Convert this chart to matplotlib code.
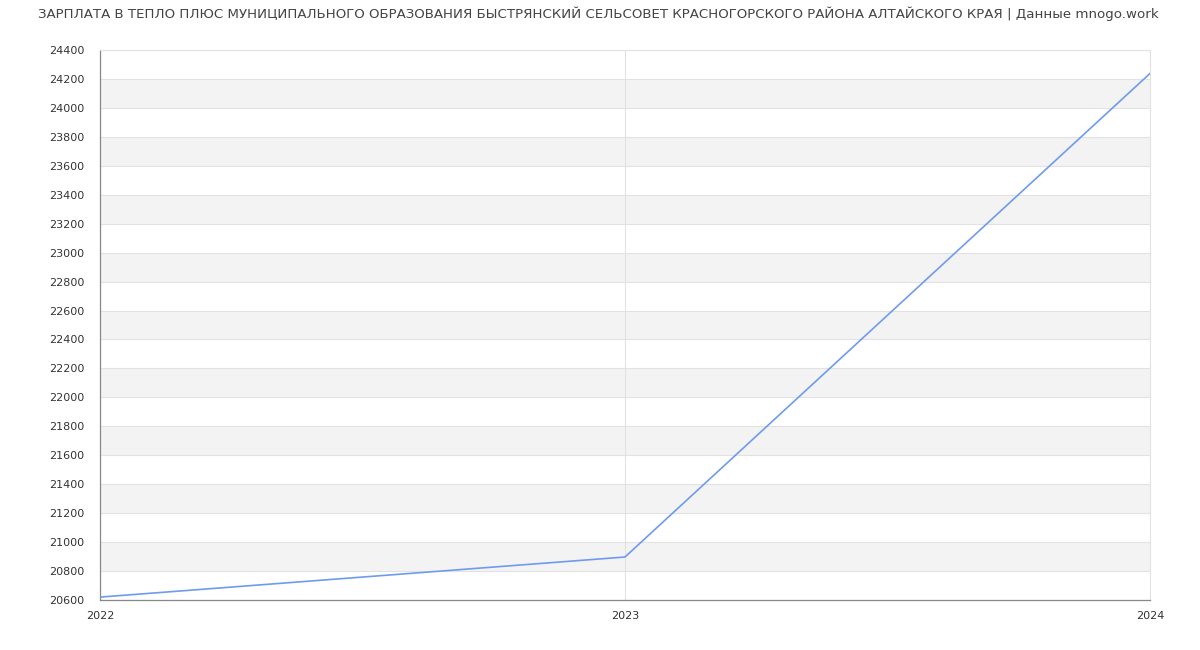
import matplotlib
matplotlib.use("Agg")
import matplotlib.pyplot as plt

# data
years = [2022, 2023, 2024]
salary = [20620, 20897, 24238]

y_min, y_max, y_step = 20600, 24400, 200
title = ("ЗАРПЛАТА В ТЕПЛО ПЛЮС МУНИЦИПАЛЬНОГО ОБРАЗОВАНИЯ БЫСТРЯНСКИЙ СЕЛЬСОВЕТ "
         "КРАСНОГОРСКОГО РАЙОНА АЛТАЙСКОГО КРАЯ | Данные mnogo.work")

fig = plt.figure(figsize=(12, 6.5), dpi=100)
ax = fig.add_axes([100 / 1200, 50 / 650, 1050 / 1200, 550 / 650])

# alternating bands
for lo in range(y_min, y_max, y_step):
    if ((lo - y_min) // y_step) % 2 == 1:
        ax.axhspan(lo, lo + y_step, color="#f3f3f3", zorder=0, lw=0)

ax.set_yticks(range(y_min, y_max + 1, y_step))
ax.set_xticks(years)
ax.grid(True, color="#e2e2e2", lw=0.8, zorder=1)

ax.plot(years, salary, color="#6f9bef", lw=1.2, zorder=3)

ax.set_xlim(years[0], years[-1])
ax.set_ylim(y_min, y_max)

for side in ["top", "right"]:
    ax.spines[side].set_color("#e2e2e2")
    ax.spines[side].set_linewidth(0.8)
for side in ["left", "bottom"]:
    ax.spines[side].set_color("#888888")
    ax.spines[side].set_linewidth(0.9)

ax.tick_params(axis="both", labelsize=8, colors="#333333", length=0)
ax.tick_params(axis="y", pad=11)
ax.tick_params(axis="x", pad=8)

fig.text(0.5 - 2 / 1200, 1 - 14 / 650, title, ha="center", va="center",
         fontsize=9.65, color="#444444")

fig.savefig("out.png", dpi=100)
